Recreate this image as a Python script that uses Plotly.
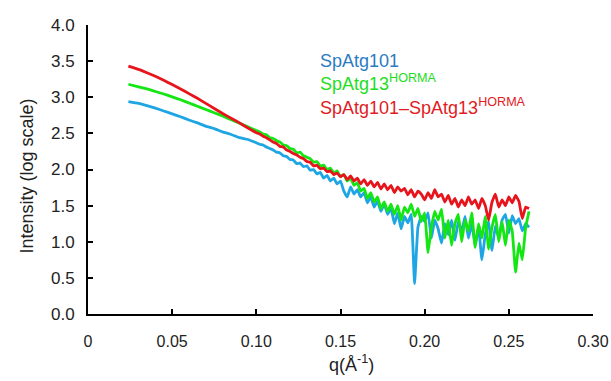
import plotly.graph_objects as go

# q values (Å^-1): smooth low-q part then noisy high-q part
q_low = [0.024, 0.030, 0.035, 0.040, 0.045, 0.050, 0.055, 0.060, 0.065,
         0.070, 0.075, 0.080, 0.085, 0.090, 0.095, 0.100]
q_high = [round(0.102 + 0.002 * i, 3) for i in range(81)]
q_vals = q_low + q_high

blue_low = [2.94, 2.915, 2.885, 2.85, 2.81, 2.77, 2.73, 2.685, 2.645,
            2.60, 2.565, 2.52, 2.485, 2.44, 2.415, 2.37]
green_low = [3.18, 3.145, 3.115, 3.08, 3.045, 3.005, 2.965, 2.92, 2.875,
             2.83, 2.785, 2.74, 2.69, 2.64, 2.59, 2.54]
red_low = [3.43, 3.385, 3.34, 3.29, 3.235, 3.175, 3.115, 3.05, 2.985,
           2.915, 2.845, 2.775, 2.71, 2.645, 2.575, 2.51]

blue_high = [2.35, 2.34, 2.31, 2.29, 2.27, 2.24, 2.23, 2.19, 2.18, 2.14,
             2.13, 2.08, 2.09, 2.04, 2.05, 1.99, 2.00, 1.94, 1.96, 1.88,
             1.92, 1.84, 1.88, 1.80, 1.84, 1.70, 1.62, 1.76, 1.66, 1.72,
             1.62, 1.68, 1.54, 1.62, 1.48, 1.56, 1.42, 1.52, 1.38, 1.46,
             1.25, 1.40, 1.18, 1.35, 1.26, 1.38, 0.42, 1.20, 1.35, 1.28,
             1.40, 1.05, 1.30, 1.18, 0.98, 1.25, 1.10, 1.30, 1.02, 1.28,
             1.15, 1.35, 1.05, 1.25, 0.95, 1.20, 0.75, 1.10, 1.28, 0.88,
             1.22, 1.05, 1.30, 1.38, 1.12, 1.36, 1.25, 1.32, 1.15, 1.25,
             1.20]
green_high = [2.52, 2.49, 2.48, 2.44, 2.43, 2.40, 2.38, 2.34, 2.33, 2.29,
              2.28, 2.23, 2.24, 2.19, 2.17, 2.15, 2.10, 2.11, 2.05, 2.06,
              2.00, 2.02, 1.95, 1.98, 1.90, 1.93, 1.84, 1.88, 1.78, 1.82,
              1.70, 1.74, 1.60, 1.68, 1.55, 1.62, 1.46, 1.55, 1.42, 1.52,
              1.38, 1.50, 1.30, 1.48, 1.40, 1.52, 1.35, 1.46, 1.28, 1.40,
              0.85, 1.20, 1.42, 1.30, 1.45, 1.05, 1.30, 0.95, 1.25, 1.38,
              1.00, 1.30, 1.15, 1.40, 0.92, 1.25, 1.05, 1.35, 0.90, 1.20,
              1.38, 1.00, 1.28, 0.95, 1.30, 1.15, 0.58, 0.98, 0.75, 1.20,
              1.42]
red_high = [2.49, 2.46, 2.44, 2.41, 2.38, 2.36, 2.32, 2.31, 2.27, 2.25,
            2.22, 2.20, 2.17, 2.15, 2.11, 2.10, 2.05, 2.06, 2.01, 2.02,
            1.97, 1.98, 1.93, 1.95, 1.90, 1.93, 1.86, 1.91, 1.84, 1.88,
            1.80, 1.86, 1.78, 1.84, 1.76, 1.82, 1.73, 1.80, 1.72, 1.78,
            1.68, 1.76, 1.70, 1.74, 1.65, 1.72, 1.62, 1.70, 1.66, 1.58,
            1.68, 1.60, 1.72, 1.62, 1.66, 1.55, 1.64, 1.52, 1.60, 1.48,
            1.58, 1.50, 1.62, 1.52, 1.58, 1.46, 1.60, 1.50, 1.30, 1.55,
            1.66, 1.48, 1.58, 1.50, 1.62, 1.54, 1.64, 1.56, 1.32, 1.48,
            1.46]

series_names = ["SpAtg101", "SpAtg13<sup>HORMA</sup>", "SpAtg101–SpAtg13<sup>HORMA</sup>"]
line_colors = ["#1EA5E3", "#14E614", "#E8141C"]
text_colors = ["#2A7CC2", "#22DD22", "#E01B24"]
series_values = [blue_low + blue_high, green_low + green_high, red_low + red_high]

x_ticks = [0, 0.05, 0.10, 0.15, 0.20, 0.25, 0.30]
x_ticktext = ["0", "0.05", "0.10", "0.15", "0.20", "0.25", "0.30"]
y_ticks = [0, 0.5, 1.0, 1.5, 2.0, 2.5, 3.0, 3.5, 4.0]
y_ticktext = ["0.0", "0.5", "1.0", "1.5", "2.0", "2.5", "3.0", "3.5", "4.0"]

label_y = [3.50, 3.21, 2.875]

fig = go.Figure()
for name, col, vals in zip(series_names, line_colors, series_values):
    fig.add_trace(go.Scatter(x=q_vals, y=vals, mode="lines", name=name,
                             line=dict(color=col, width=2.8, shape="spline", smoothing=0.3),
                             showlegend=False))

for name, col, ly in zip(series_names, text_colors, label_y):
    fig.add_annotation(x=0.1366, y=ly, xref="x", yref="y", text=name,
                       showarrow=False, xanchor="left", yanchor="middle",
                       font=dict(size=18, color=col, family="Arial"))

# axis titles placed as annotations for exact positioning
fig.add_annotation(x=-0.121, y=0.479, xref="x domain", yref="y domain", text="Intensity (log scale)",
                   showarrow=False, textangle=-90, xanchor="center", yanchor="middle",
                   font=dict(size=18, color="#222222", family="Arial"))
fig.add_annotation(x=0.521, y=-0.17, xref="x domain", yref="y domain", text="q(Å<sup>-1</sup>)",
                   showarrow=False, xanchor="center", yanchor="middle",
                   font=dict(size=18, color="#222222", family="Arial"))

tick_font_x = dict(family="Arial", size=16, color="#222222")
tick_font_y = dict(family="Arial", size=17, color="#222222")
fig.update_layout(
    width=611, height=381,
    margin=dict(l=88, r=18, t=25, b=67),
    paper_bgcolor="white", plot_bgcolor="white",
    xaxis=dict(range=[0, 0.30], tickvals=x_ticks, ticktext=x_ticktext,
               ticks="inside", ticklen=5, tickwidth=2, tickcolor="black",
               showline=True, linecolor="black", linewidth=2, automargin=False,
               showgrid=False, zeroline=False, ticklabelstandoff=12,
               tickfont=tick_font_x),
    yaxis=dict(range=[0, 4.0], tickvals=y_ticks, ticktext=y_ticktext,
               ticks="inside", ticklen=5, tickwidth=2, tickcolor="black",
               showline=True, linecolor="black", linewidth=2, automargin=False,
               showgrid=False, zeroline=False, ticklabelstandoff=8,
               tickfont=tick_font_y),
)

fig.write_html("out.html", config={"displayModeBar": False},
               post_script="document.body.style.margin='0';")
